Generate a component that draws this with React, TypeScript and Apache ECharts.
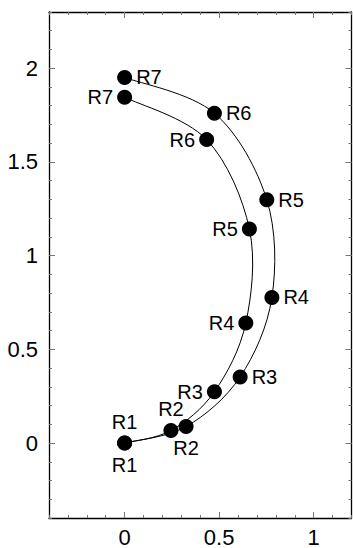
import React, { useEffect, useRef } from 'react';
import * as echarts from 'echarts';

const pointNames = ['R1', 'R2', 'R3', 'R4', 'R5', 'R6', 'R7'];
const innerX = [0, 0.245, 0.475, 0.641, 0.66, 0.434, 0.0];
const innerY = [0, 0.067, 0.274, 0.641, 1.142, 1.619, 1.845];
const outerX = [0, 0.325, 0.611, 0.779, 0.752, 0.475, 0.0];
const outerY = [0, 0.088, 0.353, 0.777, 1.298, 1.76, 1.951];
const xTickLabels = [0, 0.5, 1];
const yTickLabels = [0, 0.5, 1, 1.5, 2];
const innerLabelSide = ['top', 'top', 'left', 'left', 'left', 'left', 'left'];
const outerLabelSide = ['bottom', 'bottom', 'right', 'right', 'right', 'right', 'right'];

const FONT = 'Liberation Sans, Arial, Helvetica, sans-serif';
const X_MIN = -0.4, X_MAX = 1.2, Y_MIN = -0.4, Y_MAX = 2.3, MINOR = 0.1;

function buildData(xs: number[], ys: number[], sides: string[]) {
  return xs.map((x, i) => ({
    value: [x, ys[i]],
    name: pointNames[i],
    label: { position: sides[i] },
  }));
}

// Catmull-Rom spline through pixel points, as cubic bezier path data
function splinePath(pts: number[][]): string {
  let d = `M${pts[0][0]},${pts[0][1]}`;
  for (let i = 0; i < pts.length - 1; i++) {
    const p0 = pts[Math.max(0, i - 1)];
    const p1 = pts[i];
    const p2 = pts[i + 1];
    const p3 = pts[Math.min(pts.length - 1, i + 2)];
    const c1x = p1[0] + (p2[0] - p0[0]) / 6;
    const c1y = p1[1] + (p2[1] - p0[1]) / 6;
    const c2x = p2[0] - (p3[0] - p1[0]) / 6;
    const c2y = p2[1] - (p3[1] - p1[1]) / 6;
    d += ` C${c1x},${c1y} ${c2x},${c2y} ${p2[0]},${p2[1]}`;
  }
  return d;
}

function curveSeries(xs: number[], ys: number[]) {
  return {
    type: 'custom',
    xAxisIndex: 0,
    yAxisIndex: 0,
    z: 1,
    silent: true,
    data: xs.map((x, i) => [x, ys[i]]),
    renderItem: (params: any, api: any) => {
      if (params.dataIndex !== 0) return null;
      const pts = xs.map((x, i) => api.coord([x, ys[i]]));
      return {
        type: 'path',
        shape: { pathData: splinePath(pts) },
        style: { fill: 'none', stroke: '#000', lineWidth: 1 },
      };
    },
  };
}

export default function App() {
  const ref = useRef<HTMLDivElement>(null);
  useEffect(() => {
    if (!ref.current) return;
    const chart = echarts.init(ref.current, null, { renderer: 'svg' });
    const tickStyle = { color: '#777', width: 1 };
    const minorX = (position: string) => ({
      type: 'value', position, min: X_MIN, max: X_MAX, interval: MINOR,
      axisLine: { show: true, onZero: false, lineStyle: { color: '#000', width: 1.3 } },
      axisTick: { show: true, inside: true, length: 3, lineStyle: tickStyle },
      axisLabel: { show: false }, splitLine: { show: false },
    });
    const majorX = (position: string, showLabel: boolean) => ({
      type: 'value', position, min: X_MIN, max: X_MAX, interval: MINOR,
      axisLine: { show: false, onZero: false },
      axisTick: { show: true, inside: true, length: 6, customValues: xTickLabels, lineStyle: tickStyle },
      axisLabel: { show: showLabel, customValues: xTickLabels, margin: 8, fontSize: 22, color: '#000', fontFamily: FONT },
      splitLine: { show: false },
    });
    const minorY = (position: string) => ({
      type: 'value', position, min: Y_MIN, max: Y_MAX, interval: MINOR,
      axisLine: { show: true, onZero: false, lineStyle: { color: '#000', width: 1.3 } },
      axisTick: { show: true, inside: true, length: 3, lineStyle: tickStyle },
      axisLabel: { show: false }, splitLine: { show: false },
    });
    const majorY = (position: string, showLabel: boolean) => ({
      type: 'value', position, min: Y_MIN, max: Y_MAX, interval: MINOR,
      axisLine: { show: false, onZero: false },
      axisTick: { show: true, inside: true, length: 6, customValues: yTickLabels, lineStyle: tickStyle },
      axisLabel: { show: showLabel, customValues: yTickLabels, margin: 11, fontSize: 22, color: '#000', fontFamily: FONT },
      splitLine: { show: false },
    });
    const pointBase = {
      type: 'scatter',
      xAxisIndex: 0,
      yAxisIndex: 0,
      z: 3,
      symbol: 'circle',
      symbolSize: 15,
      itemStyle: { color: '#000', opacity: 1 },
      label: {
        show: true,
        formatter: '{b}',
        fontSize: 20,
        color: '#000',
        opacity: 1,
        fontFamily: FONT,
        distance: 4,
      },
    };
    chart.setOption({
      animation: false,
      backgroundColor: '#fff',
      grid: { left: 49, right: 1.5, top: 12, bottom: 28, containLabel: false },
      xAxis: [minorX('bottom'), majorX('bottom', true), minorX('top'), majorX('top', false)],
      yAxis: [minorY('left'), majorY('left', true), minorY('right'), majorY('right', false)],
      series: [
        curveSeries(innerX, innerY),
        curveSeries(outerX, outerY),
        { ...pointBase, name: 'inner', data: buildData(innerX, innerY, innerLabelSide) },
        { ...pointBase, name: 'outer', data: buildData(outerX, outerY, outerLabelSide) },
      ],
    });
    return () => chart.dispose();
  }, []);
  return (
    <div
      ref={ref}
      style={{ position: 'fixed', left: 0, top: 0, width: 353, height: 548, background: '#fff' }}
    />
  );
}
